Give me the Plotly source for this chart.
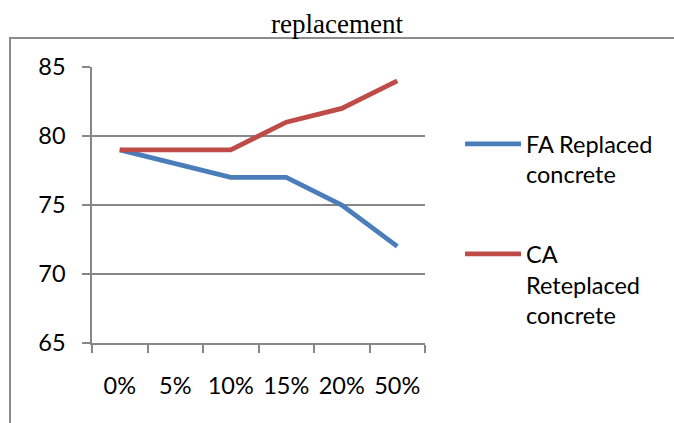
import plotly.graph_objects as go

categories = ["0%", "5%", "10%", "15%", "20%", "50%"]
fa_values = [79, 78, 77, 77, 75, 72]
ca_values = [79, 79, 79, 81, 82, 84]
y_ticks = [65, 70, 75, 80, 85]

W, H = 674, 423
L, R, T, B = 92, 249, 67, 80
pw, ph = W - L - R, H - T - B

def px_x(p):
    return (p - L) / pw

def px_y(p):
    return (H - B - p) / ph

grid = "#878787"
font = "Lato, 'Open Sans', sans-serif"
fsize = 23.5

fig = go.Figure()
fig.add_trace(go.Scatter(x=categories, y=fa_values, mode="lines", name="FA Replaced<br>concrete",
                         line=dict(color="#4A7EBB", width=4.8), legendgroup="a"))
fig.add_trace(go.Scatter(x=categories, y=ca_values, mode="lines", name="CA<br>Reteplaced<br>concrete",
                         line=dict(color="#BE4B48", width=4.8), legendgroup="b"))

fig.update_layout(
    width=W, height=H,
    margin=dict(l=L, r=R, t=T, b=B),
    paper_bgcolor="white", plot_bgcolor="white",
    font=dict(family=font, size=fsize, color="#000000"),
    title=dict(text="replacement", x=0.5, xref="container", xanchor="center",
               y=(H - 24) / H, yref="container", yanchor="middle",
               font=dict(family="'Liberation Serif', 'Times New Roman', serif", size=27, color="#000")),
    showlegend=True,
    legend=dict(x=px_x(460), y=px_y(122), xanchor="left", yanchor="top",
                traceorder="grouped", tracegroupgap=46, valign="top",
                font=dict(family=font, size=fsize), bgcolor="rgba(0,0,0,0)", itemwidth=56),
    xaxis=dict(type="category", range=[-0.5, 5.5], tickson="boundaries", ticks="outside", ticklen=8,
               tickcolor=grid, tickwidth=1.5, showline=True, linecolor=grid, linewidth=1.5,
               showgrid=False, ticklabelstandoff=21, zeroline=False, tickangle=0, automargin=False),
    yaxis=dict(range=[65, 85], tickvals=y_ticks, ticks="outside", ticklen=8, tickcolor=grid,
               tickwidth=1.5, showline=True, linecolor=grid, linewidth=1.5, showgrid=True,
               gridcolor=grid, gridwidth=1.5, ticklabelstandoff=12, zeroline=False, automargin=False),
    shapes=[dict(type="rect", xref="paper", yref="paper",
                 x0=px_x(10), x1=px_x(700), y0=px_y(450), y1=px_y(38),
                 line=dict(color="#8c8c8c", width=2), fillcolor="rgba(0,0,0,0)", layer="below")],
)

fig.write_html("out.html", config={"displayModeBar": False},
               post_script="document.body.style.margin='0px';")
